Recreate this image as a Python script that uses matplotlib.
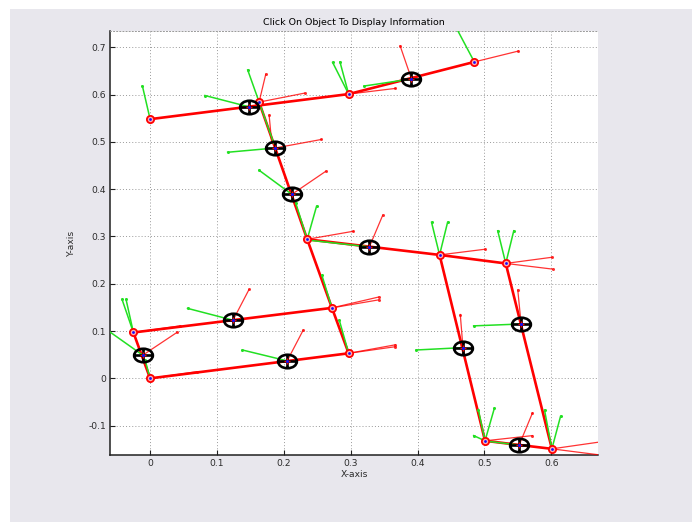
import matplotlib
matplotlib.use("Agg")
import matplotlib.pyplot as plt
from matplotlib.path import Path
from matplotlib.patches import Rectangle

# ---- joint positions (red circles) ----
node_x = [0.000, 0.163, 0.297, 0.485, 0.235, 0.272, 0.297, -0.025, 0.000, 0.433, 0.532, 0.501, 0.601]
node_y = [0.548, 0.584, 0.601, 0.669, 0.294, 0.149, 0.053, 0.097, 0.000, 0.261, 0.243, -0.132, -0.149]

# ---- link connectivity (indices into the joint list) ----
link_from = [8, 7, 8, 6, 5, 4, 0, 2, 4, 9, 9, 10, 11]
link_to = [6, 5, 7, 5, 4, 1, 2, 3, 9, 10, 11, 12, 12]

# ---- selectable objects (black target markers) ----
obj_x = [0.148, 0.187, 0.212, 0.391, 0.328, 0.124, 0.205, -0.011, 0.468, 0.555, 0.552]
obj_y = [0.574, 0.487, 0.389, 0.633, 0.278, 0.123, 0.037, 0.049, 0.065, 0.115, -0.141]

# ---- frame axes: green (y-axis) segments ----
gx0 = [0.000, 0.148, 0.185, 0.187, 0.212, 0.297, 0.297, 0.391, 0.485, 0.235, 0.235, 0.328,
       0.433, 0.433, 0.532, 0.532, 0.468, 0.555, 0.501, 0.501, 0.501, 0.552, 0.601, 0.601,
       0.000, -0.011, -0.025, -0.025, 0.124, 0.205, 0.272, 0.297]
gy0 = [0.548, 0.574, 0.497, 0.487, 0.389, 0.601, 0.601, 0.633, 0.669, 0.294, 0.294, 0.278,
       0.261, 0.261, 0.243, 0.243, 0.065, 0.115, -0.132, -0.132, -0.132, -0.141, -0.149, -0.149,
       0.000, 0.049, 0.097, 0.097, 0.123, 0.037, 0.149, 0.053]
gx1 = [-0.0115, 0.082, 0.146, 0.116, 0.163, 0.273, 0.284, 0.320, 0.452, 0.249, 0.218, 0.238,
       0.421, 0.445, 0.520, 0.544, 0.398, 0.484, 0.491, 0.515, 0.484, 0.505, 0.590, 0.614,
       -0.0075, -0.066, -0.042, -0.036, 0.056, 0.138, 0.257, 0.283]
gy1 = [0.618, 0.598, 0.652, 0.478, 0.440, 0.668, 0.669, 0.618, 0.757, 0.364, 0.370, 0.292,
       0.330, 0.330, 0.312, 0.312, 0.060, 0.111, -0.066, -0.063, -0.121, -0.133, -0.067, -0.080,
       0.039, 0.104, 0.167, 0.167, 0.148, 0.060, 0.218, 0.123]

# ---- frame axes: red (x-axis) segments ----
rx0 = [0.163, 0.163, 0.182, 0.187, 0.212, 0.297, 0.391, 0.485, 0.235, 0.328, 0.433, 0.532,
       0.532, 0.468, 0.555, 0.501, 0.552, 0.601, 0.601, 0.000, -0.011, -0.025, 0.124, 0.205,
       0.272, 0.272, 0.297, 0.297]
ry0 = [0.584, 0.584, 0.497, 0.487, 0.389, 0.601, 0.633, 0.669, 0.294, 0.278, 0.261, 0.243,
       0.243, 0.065, 0.115, -0.132, -0.141, -0.149, -0.149, 0.000, 0.049, 0.097, 0.123, 0.037,
       0.149, 0.149, 0.053, 0.053]
rx1 = [0.173, 0.231, 0.178, 0.256, 0.263, 0.367, 0.374, 0.551, 0.304, 0.348, 0.501, 0.601,
       0.602, 0.464, 0.550, 0.572, 0.572, 0.690, 0.690, 0.070, 0.040, 0.045, 0.148, 0.229,
       0.342, 0.342, 0.367, 0.367]
ry1 = [0.643, 0.603, 0.557, 0.505, 0.438, 0.613, 0.703, 0.692, 0.311, 0.345, 0.273, 0.256,
       0.231, 0.135, 0.187, -0.121, -0.073, -0.131, -0.165, 0.014, 0.097, 0.111, 0.188, 0.102,
       0.166, 0.172, 0.067, 0.071]

x_ticks = [0, 0.1, 0.2, 0.3, 0.4, 0.5, 0.6]
x_tick_labels = ["0", "0.1", "0.2", "0.3", "0.4", "0.5", "0.6"]
y_ticks = [-0.1, 0, 0.1, 0.2, 0.3, 0.4, 0.5, 0.6, 0.7]
y_tick_labels = ["-0.1", "0", "0.1", "0.2", "0.3", "0.4", "0.5", "0.6", "0.7"]

title_text = "Click On Object To Display Information"
xlabel_text = "X-axis"
ylabel_text = "Y-axis"

RED = "#ff0000"
GREEN = "#22e022"
FIG_GRAY = "#e8e7ed"

fig = plt.figure(figsize=(6.92, 5.22), dpi=100)
fig.patch.set_facecolor("white")
# grey window area below the thin white strip
fig.patches.append(Rectangle((10 / 692, 0), 1 - 10 / 692, 1 - 9 / 522,
                             transform=fig.transFigure, facecolor=FIG_GRAY,
                             edgecolor="none", zorder=-10))

ax = fig.add_axes([110 / 692, 1 - 455 / 522, (598 - 110) / 692, (455 - 30.7) / 522])
ax.set_facecolor("white")
ax.set_xlim(-0.06, 0.67)
ax.set_ylim(-0.162, 0.735)

# grid
ax.set_xticks(x_ticks)
ax.set_xticklabels(x_tick_labels)
ax.set_yticks(y_ticks)
ax.set_yticklabels(y_tick_labels)
ax.grid(True, color="#999999", linestyle=(0, (1, 2.2)), linewidth=0.7)
ax.set_axisbelow(True)

ax.spines["right"].set_visible(False)
ax.spines["top"].set_linestyle((0, (1, 2.2)))
ax.spines["top"].set_color("#999999")
ax.spines["top"].set_linewidth(0.7)
for side in ("left", "bottom"):
    ax.spines[side].set_color("#202020")
    ax.spines[side].set_linewidth(1.1)

ax.tick_params(direction="in", length=3.5, width=0.8, colors="#202020",
               labelsize=6.6, labelcolor="#2a2a2a")
ax.tick_params(axis="x", pad=3)
ax.tick_params(axis="y", pad=3)

# links between joints
for a, b in zip(link_from, link_to):
    ax.plot([node_x[a], node_x[b]], [node_y[a], node_y[b]], color=RED,
            linewidth=1.9, solid_capstyle="round", zorder=3)

# frame axes
for x0, y0, x1, y1 in zip(rx0, ry0, rx1, ry1):
    ax.plot([x0, x1], [y0, y1], color=RED, linewidth=0.9, alpha=0.8,
            marker="o", markersize=2.2, markevery=[1], markeredgewidth=0, zorder=4)
for x0, y0, x1, y1 in zip(gx0, gy0, gx1, gy1):
    ax.plot([x0, x1], [y0, y1], color=GREEN, linewidth=1.1,
            marker="o", markersize=2.2, markevery=[1], markeredgewidth=0, zorder=4)

# joints
ax.plot(node_x, node_y, linestyle="none", marker="o", markersize=5.2,
        markerfacecolor="#ffb0b0", markeredgecolor=RED, markeredgewidth=1.3, zorder=5)
ax.plot(node_x, node_y, linestyle="none", marker="o", markersize=2.0,
        markerfacecolor="#1010ff", markeredgewidth=0, zorder=6)

# target markers: flattened ring with cross-hair
circ = Path.unit_circle()
verts = [tuple(v) for v in (circ.vertices * [1.0, 0.72])]
codes = list(circ.codes)
verts += [(-1, 0), (1, 0), (0, -0.72), (0, 0.72)]
codes += [Path.MOVETO, Path.LINETO, Path.MOVETO, Path.LINETO]
target = Path(verts, codes)
ax.plot(obj_x, obj_y, linestyle="none", marker=target, markersize=13.5,
        markerfacecolor="none", markeredgecolor="black", markeredgewidth=1.9, zorder=7)
ax.plot(obj_x, obj_y, linestyle="none", marker="+", markersize=5,
        markeredgecolor=RED, markeredgewidth=1.0, zorder=8)
ax.plot(obj_x, obj_y, linestyle="none", marker="o", markersize=2.2,
        markerfacecolor="#1010ff", markeredgewidth=0, zorder=9)

ax.set_title(title_text, fontsize=6.8, pad=4, color="black")
ax.set_xlabel(xlabel_text, fontsize=6.6, labelpad=1.5, color="#2a2a2a")
ax.set_ylabel(ylabel_text, fontsize=6.6, labelpad=9, color="#2a2a2a")

fig.savefig("out.png", dpi=100, facecolor=fig.get_facecolor())
